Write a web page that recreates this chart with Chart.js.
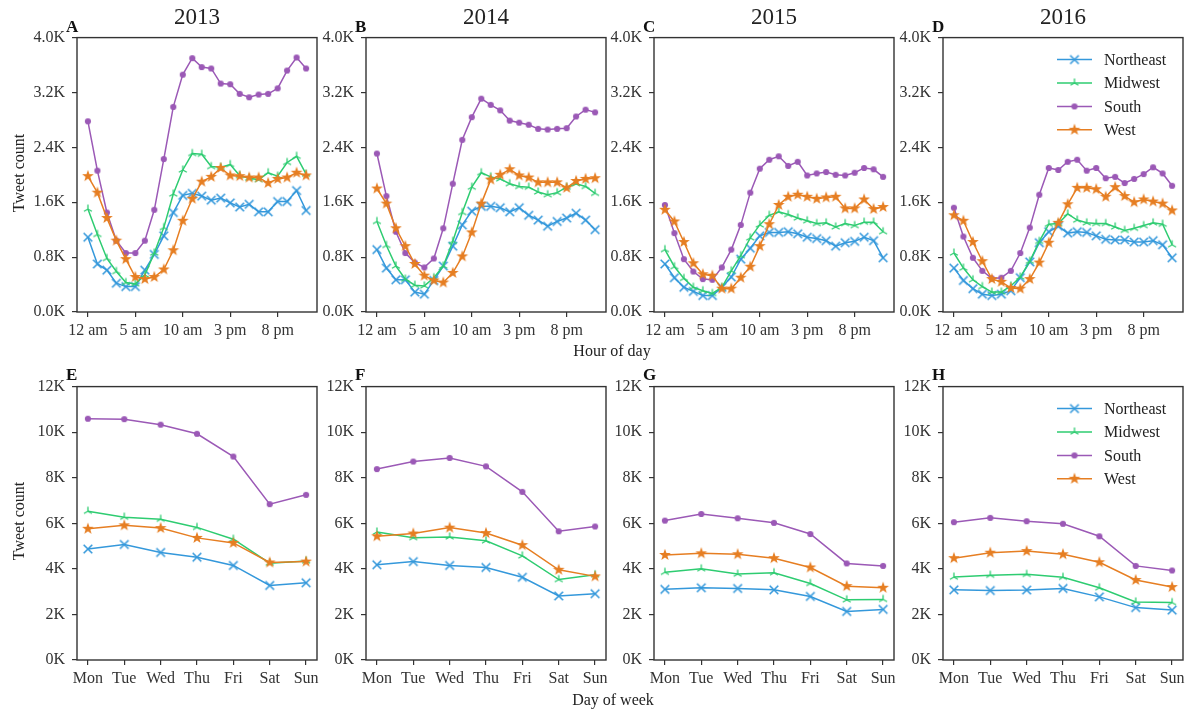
<!DOCTYPE html>
<html>
<head>
<meta charset="utf-8">
<script src="https://cdn.jsdelivr.net/npm/chart.js@4.4.0/dist/chart.umd.min.js"></script>
<style>
html,body{margin:0;padding:0;background:#fff;}
body{width:1189px;height:715px;position:relative;overflow:hidden;font-family:'Liberation Serif','Times New Roman',serif;color:#222;}
.box{position:absolute;}
.txt{position:absolute;white-space:nowrap;font-family:'Liberation Serif','Times New Roman',serif;color:#222;}
</style>
</head>
<body>
<script>
// ---------------- DATA ----------------
const hours = [0,1,2,3,4,5,6,7,8,9,10,11,12,13,14,15,16,17,18,19,20,21,22,23];
const hourTickValues = [0,5,10,15,20];
const hourTickLabels = ['12 am','5 am','10 am','3 pm','8 pm'];
const days = ['Mon','Tue','Wed','Thu','Fri','Sat','Sun'];
const regions = ['Northeast','Midwest','South','West'];
const years = ['2013','2014','2015','2016'];
const hourPanelLetters = ['A','B','C','D'];
const dayPanelLetters = ['E','F','G','H'];
const hourYTicksMax = 4000, hourYStep = 800;
const dayYTicksMax = 12000, dayYStep = 2000;

// Hourly tweet counts
const hour2013Northeast = [1090,700,610,420,370,370,610,840,1110,1450,1700,1730,1690,1630,1660,1590,1530,1570,1460,1460,1610,1610,1770,1480];
const hour2013Midwest   = [1500,1130,780,590,430,410,540,860,1230,1720,2070,2310,2300,2120,2110,2150,1990,1950,1930,2030,1980,2180,2270,2010];
const hour2013South     = [2780,2060,1450,1040,860,860,1040,1490,2230,2990,3460,3700,3570,3550,3330,3320,3180,3130,3170,3180,3260,3520,3710,3550];
const hour2013West      = [1980,1740,1370,1040,770,510,480,510,620,900,1330,1650,1900,1970,2100,1990,1980,1960,1960,1880,1940,1960,2030,1990];

const hour2014Northeast = [910,640,470,470,290,260,460,670,960,1270,1470,1540,1540,1520,1460,1520,1410,1340,1250,1320,1370,1440,1340,1200];
const hour2014Midwest   = [1320,970,670,480,390,380,500,670,1030,1450,1820,2030,1970,1940,1870,1830,1820,1750,1710,1740,1820,1870,1830,1730];
const hour2014South     = [2310,1690,1170,860,720,650,780,1220,1870,2510,2840,3110,3020,2940,2790,2760,2730,2670,2660,2670,2680,2850,2950,2910];
const hour2014West      = [1800,1580,1220,960,700,530,460,430,570,810,1160,1580,1930,2000,2080,1990,1960,1890,1890,1890,1810,1910,1940,1950];

const hour2015Northeast = [700,500,360,300,240,240,360,510,770,930,1110,1160,1160,1170,1140,1090,1070,1040,960,1010,1030,1090,1040,790];
const hour2015Midwest   = [910,660,490,360,310,270,360,600,820,1080,1270,1410,1460,1420,1370,1330,1290,1300,1240,1290,1260,1310,1310,1170];
const hour2015South     = [1560,1150,770,590,480,470,650,910,1270,1740,2090,2220,2270,2130,2190,1990,2020,2040,2000,1990,2030,2100,2080,1970];
const hour2015West      = [1490,1320,1020,710,550,530,340,340,500,660,960,1280,1560,1680,1710,1680,1650,1670,1680,1510,1510,1640,1500,1530];

const hour2016Northeast = [640,460,340,260,240,260,310,500,730,1010,1170,1250,1150,1170,1160,1110,1060,1050,1050,1020,1020,1040,980,790];
const hour2016Midwest   = [860,640,470,370,290,290,380,510,740,1030,1280,1290,1430,1340,1300,1290,1290,1240,1190,1220,1260,1300,1280,980];
const hour2016South     = [1520,1100,790,600,490,500,600,860,1230,1710,2100,2070,2190,2220,2060,2100,1950,1970,1880,1940,2010,2110,2020,1840];
const hour2016West      = [1410,1330,1020,740,480,440,350,340,480,720,1010,1300,1570,1810,1810,1790,1680,1820,1690,1600,1640,1610,1580,1480];

// Day-of-week tweet counts
const day2013Northeast = [4870,5070,4720,4510,4150,3270,3390];
const day2013Midwest   = [6530,6270,6180,5820,5300,4250,4350];
const day2013South     = [10590,10570,10330,9930,8930,6840,7250];
const day2013West      = [5760,5910,5790,5360,5140,4280,4320];

const day2014Northeast = [4180,4320,4150,4060,3630,2810,2910];
const day2014Midwest   = [5620,5370,5400,5230,4570,3530,3740];
const day2014South     = [8380,8710,8870,8500,7380,5650,5860];
const day2014West      = [5430,5550,5810,5570,5040,3960,3670];

const day2015Northeast = [3100,3170,3140,3080,2790,2130,2220];
const day2015Midwest   = [3850,4000,3770,3830,3360,2640,2660];
const day2015South     = [6120,6410,6220,6020,5530,4240,4130];
const day2015West      = [4610,4680,4640,4470,4060,3240,3170];

const day2016Northeast = [3080,3050,3070,3140,2770,2300,2190];
const day2016Midwest   = [3640,3720,3760,3630,3170,2550,2520];
const day2016South     = [6050,6240,6090,5980,5430,4130,3930];
const day2016West      = [4470,4710,4780,4640,4290,3510,3200];

// ---------------- TABLES BUILT FROM DATA ----------------
const hourlySeries = [
  [hour2013Northeast, hour2013Midwest, hour2013South, hour2013West],
  [hour2014Northeast, hour2014Midwest, hour2014South, hour2014West],
  [hour2015Northeast, hour2015Midwest, hour2015South, hour2015West],
  [hour2016Northeast, hour2016Midwest, hour2016South, hour2016West]
];
const dailySeries = [
  [day2013Northeast, day2013Midwest, day2013South, day2013West],
  [day2014Northeast, day2014Midwest, day2014South, day2014West],
  [day2015Northeast, day2015Midwest, day2015South, day2015West],
  [day2016Northeast, day2016Midwest, day2016South, day2016West]
];
const dayIndex = days.map((d, i) => i);

// ---------------- STYLE / LAYOUT ----------------
const FONT = "'Liberation Serif','Times New Roman',serif";
const regionColors = ['#3498db', '#2ecc71', '#9b59b6', '#e67e22'];
const regionMarkers = ['x', 'tri', 'dot', 'star'];
const colLefts = [77, 366, 654, 943];
const FW = 240;
const topRowTop = 33, topRowH = 279;
const botRowTop = 382, botRowH = 278;
const Y_W = 70, X_H = 40, PAD_T = 12, PAD_R = 20;

Chart.defaults.font.family = FONT;

function makeMarker(kind, color) {
  const c = document.createElement('canvas');
  const s = 16;
  c.width = s; c.height = s;
  const g = c.getContext('2d');
  g.translate(s / 2, s / 2);
  g.strokeStyle = color; g.fillStyle = color;
  if (kind === 'x') {
    const r = 4.3; g.lineWidth = 1.6;
    g.beginPath(); g.moveTo(-r, -r); g.lineTo(r, r); g.moveTo(-r, r); g.lineTo(r, -r); g.stroke();
  } else if (kind === 'tri') {
    const r = 4.6; g.lineWidth = 1.3;
    g.beginPath();
    g.moveTo(0, 0); g.lineTo(0, -r);
    g.moveTo(0, 0); g.lineTo(-0.866 * r, 0.5 * r);
    g.moveTo(0, 0); g.lineTo(0.866 * r, 0.5 * r);
    g.stroke();
  } else if (kind === 'dot') {
    g.beginPath(); g.arc(0, 0, 3.1, 0, Math.PI * 2); g.fill();
  } else if (kind === 'star') {
    const R = 6.2, r = R * 0.40;
    g.beginPath();
    for (let i = 0; i < 10; i++) {
      const a = -Math.PI / 2 + i * Math.PI / 5;
      const rr = (i % 2) ? r : R;
      g.lineTo(rr * Math.cos(a), rr * Math.sin(a));
    }
    g.closePath(); g.fill();
  }
  return c;
}
const markerImgs = regionMarkers.map((k, i) => makeMarker(k, regionColors[i]));

const framePlugin = {
  id: 'frame',
  afterDraw(chart) {
    const a = chart.chartArea, ctx = chart.ctx;
    ctx.save();
    ctx.strokeStyle = '#333';
    ctx.lineWidth = 1.4;
    ctx.strokeRect(a.left, a.top, a.right - a.left, a.bottom - a.top);
    ctx.restore();
  }
};

const legendPlugin = {
  id: 'regionLegend',
  afterDraw(chart, args, opts) {
    if (!opts || !opts.show) return;
    const a = chart.chartArea, ctx = chart.ctx;
    ctx.save();
    regions.forEach((name, i) => {
      const y = a.top + 22 + i * 23.4;
      const x0 = a.right - 126, x1 = a.right - 91;
      ctx.strokeStyle = regionColors[i];
      ctx.lineWidth = 1.5;
      ctx.beginPath(); ctx.moveTo(x0, y); ctx.lineTo(x1, y); ctx.stroke();
      const img = markerImgs[i];
      ctx.drawImage(img, (x0 + x1) / 2 - img.width / 2, y - img.height / 2);
      ctx.fillStyle = '#222';
      ctx.font = '16px ' + FONT;
      ctx.textBaseline = 'middle';
      ctx.textAlign = 'left';
      ctx.fillText(name, a.right - 79, y + 1);
    });
    ctx.restore();
  }
};

function addText(txt, style) {
  const d = document.createElement('div');
  d.className = 'txt';
  d.textContent = txt;
  Object.assign(d.style, style);
  document.body.appendChild(d);
  return d;
}

function makePanel(cfg) {
  const box = document.createElement('div');
  box.className = 'box';
  const W = Y_W + FW + PAD_R, H = PAD_T + cfg.frameH + X_H;
  Object.assign(box.style, {
    left: (cfg.left - Y_W) + 'px', top: (cfg.top - PAD_T) + 'px',
    width: W + 'px', height: H + 'px'
  });
  const cv = document.createElement('canvas');
  box.appendChild(cv);
  document.body.appendChild(box);

  const datasets = regions.map((name, i) => ({
    label: name,
    data: cfg.xs.map((x, j) => ({ x: x, y: cfg.series[i][j] })),
    borderColor: regionColors[i],
    backgroundColor: regionColors[i],
    borderWidth: 1.5,
    pointStyle: markerImgs[i],
    pointRadius: 4,
    pointHoverRadius: 4,
    tension: 0,
    fill: false,
    order: 3 - i
  }));

  const tickFont = { family: FONT, size: 16 };
  new Chart(cv, {
    type: 'line',
    data: { datasets },
    plugins: [framePlugin, legendPlugin],
    options: {
      responsive: true,
      maintainAspectRatio: false,
      animation: false,
      events: [],
      layout: { padding: { top: PAD_T, right: PAD_R, left: 0, bottom: 0 } },
      plugins: {
        legend: { display: false },
        tooltip: { enabled: false },
        title: { display: false },
        regionLegend: { show: cfg.legend }
      },
      scales: {
        x: {
          type: 'linear',
          min: cfg.xMin, max: cfg.xMax,
          afterBuildTicks: (axis) => { axis.ticks = cfg.xTickValues.map(v => ({ value: v })); },
          afterFit: (s) => { s.height = X_H; },
          border: { display: false },
          grid: { drawOnChartArea: false, drawTicks: true, tickLength: 5, color: '#333', lineWidth: 1.2 },
          ticks: {
            autoSkip: false, maxRotation: 0, minRotation: 0, padding: 4,
            color: '#333', font: tickFont,
            callback: (v) => cfg.xTickLabels[cfg.xTickValues.indexOf(v)]
          }
        },
        y: {
          type: 'linear',
          min: 0, max: cfg.yMax,
          afterFit: (s) => { s.width = Y_W; },
          border: { display: false },
          grid: { drawOnChartArea: false, drawTicks: true, tickLength: 5, color: '#333', lineWidth: 1.2 },
          ticks: {
            stepSize: cfg.yStep, padding: 7, color: '#333', font: tickFont,
            callback: cfg.yFmt
          }
        }
      }
    }
  });
}

// ---- top row: hour of day ----
years.forEach((yr, k) => {
  makePanel({
    left: colLefts[k], top: topRowTop, frameH: topRowH,
    xs: hours, series: hourlySeries[k],
    xMin: -1.15, xMax: 24.15,
    xTickValues: hourTickValues, xTickLabels: hourTickLabels,
    yMax: hourYTicksMax, yStep: hourYStep,
    yFmt: (v) => (v / 1000).toFixed(1) + 'K',
    legend: k === 3
  });
  addText(yr, { left: colLefts[k] + 'px', width: FW + 'px', textAlign: 'center', top: '4px', fontSize: '23px', lineHeight: '26px' });
  addText(hourPanelLetters[k], { left: (colLefts[k] - 11) + 'px', top: '18px', fontSize: '17px', lineHeight: '17px', fontWeight: 'bold', color: '#111' });
});

// ---- bottom row: day of week ----
years.forEach((yr, k) => {
  makePanel({
    left: colLefts[k], top: botRowTop, frameH: botRowH,
    xs: dayIndex, series: dailySeries[k],
    xMin: -0.3, xMax: 6.3,
    xTickValues: dayIndex, xTickLabels: days,
    yMax: dayYTicksMax, yStep: dayYStep,
    yFmt: (v) => Math.round(v / 1000) + 'K',
    legend: k === 3
  });
  addText(dayPanelLetters[k], { left: (colLefts[k] - 11) + 'px', top: '366px', fontSize: '17px', lineHeight: '17px', fontWeight: 'bold', color: '#111' });
});

// shared axis titles
addText('Hour of day', { left: '612px', top: '351px', transform: 'translate(-50%,-50%)', fontSize: '16px' });
addText('Day of week', { left: '613px', top: '700px', transform: 'translate(-50%,-50%)', fontSize: '16px' });
addText('Tweet count', { left: '19px', top: '173px', transform: 'translate(-50%,-50%) rotate(-90deg)', fontSize: '16px' });
addText('Tweet count', { left: '19px', top: '521px', transform: 'translate(-50%,-50%) rotate(-90deg)', fontSize: '16px' });
</script>
</body>
</html>
